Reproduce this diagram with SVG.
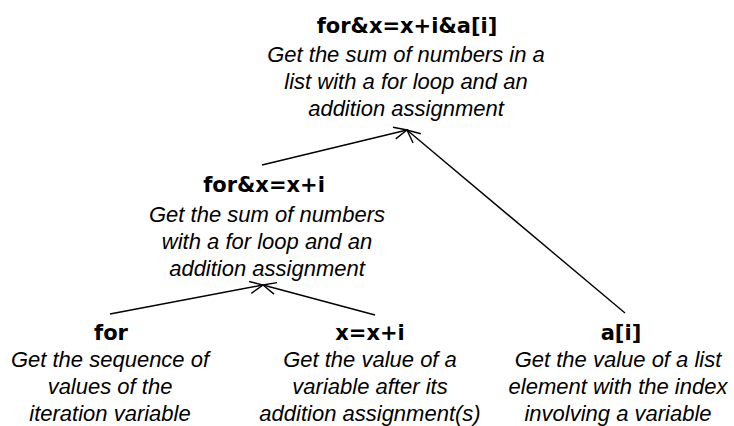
<svg xmlns="http://www.w3.org/2000/svg" width="734" height="426" viewBox="0 0 734 426">
  <defs>
    <style>
      .title { font-family: "DejaVu Sans", "Liberation Sans", sans-serif; font-weight: bold; font-size: 21px; fill: #000; text-anchor: middle; }
      .desc { font-family: "Liberation Sans", Arial, sans-serif; font-style: italic; font-size: 22px; fill: #000; text-anchor: middle; }
      .edge { stroke: #000; stroke-width: 1.4; fill: none; marker-end: url(#arrow); }
    </style>
    <marker id="arrow" markerUnits="userSpaceOnUse" markerWidth="16" markerHeight="14" viewBox="-14 -7 16 14" refX="0" refY="0" orient="auto">
      <path d="M-13,-6 L0,0 L-13,6" fill="none" stroke="#000" stroke-width="1.4"/>
    </marker>
  </defs>
  <rect width="734" height="426" fill="#fff"/>

  <g id="connectors">
    <line class="edge" x1="262" y1="165" x2="407" y2="130"/>
    <line class="edge" x1="625" y1="313" x2="407" y2="130"/>
    <line class="edge" x1="110" y1="314" x2="263" y2="285"/>
    <line class="edge" x1="375" y1="315" x2="263" y2="285"/>
  </g>

  <g id="node-top">
    <text class="title" x="407" y="33">for&amp;x=x+i&amp;a[i]</text>
    <text class="desc" x="406" y="62">Get the sum of numbers in a</text>
    <text class="desc" x="406" y="89">list with a for loop and an</text>
    <text class="desc" x="406" y="116">addition assignment</text>
  </g>

  <g id="node-mid">
    <text class="title" x="264" y="192">for&amp;x=x+i</text>
    <text class="desc" x="267" y="222">Get the sum of numbers</text>
    <text class="desc" x="267" y="249">with a for loop and an</text>
    <text class="desc" x="267" y="276">addition assignment</text>
  </g>

  <g id="node-for">
    <text class="title" x="111" y="340">for</text>
    <text class="desc" x="110" y="367">Get the sequence of</text>
    <text class="desc" x="110" y="394">values of the</text>
    <text class="desc" x="110" y="421">iteration variable</text>
  </g>

  <g id="node-xxi">
    <text class="title" x="370" y="340">x=x+i</text>
    <text class="desc" x="370" y="367">Get the value of a</text>
    <text class="desc" x="370" y="394">variable after its</text>
    <text class="desc" x="370" y="421">addition assignment(s)</text>
  </g>

  <g id="node-ai">
    <text class="title" x="621" y="340">a[i]</text>
    <text class="desc" x="618" y="367">Get the value of a list</text>
    <text class="desc" x="618" y="394">element with the index</text>
    <text class="desc" x="618" y="421">involving a variable</text>
  </g>
</svg>
